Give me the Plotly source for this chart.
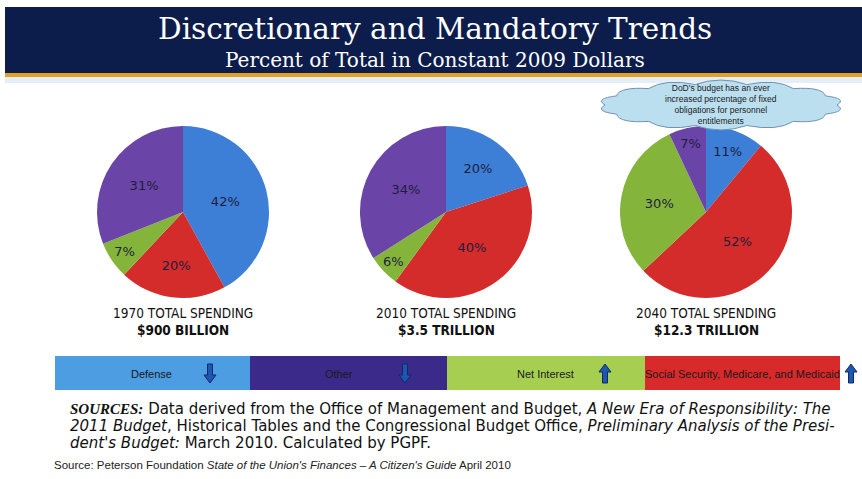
import numpy as np
import plotly.graph_objects as go

# ---------------- data ----------------
categories = ["Defense", "Social Security, Medicare, and Medicaid", "Net Interest", "Other"]
years = ["1970", "2010", "2040"]
share_1970 = [42, 20, 7, 31]
share_2010 = [20, 40, 6, 34]
share_2040 = [11, 52, 30, 7]
totals = ["$900 BILLION", "$3.5 TRILLION", "$12.3 TRILLION"]
pie_colors = ["#3d7fd6", "#d42b2b", "#84b43a", "#6a44a6"]

legend_order = ["Defense", "Other", "Net Interest", "Social Security, Medicare, and Medicaid"]
legend_colors = ["#4c9de2", "#3b2a8a", "#a6cf52", "#d8292b"]
legend_trend = ["down", "down", "up", "up"]

W, H = 862, 479

def px(x):
    return x / W

def py(y):
    return 1 - y / H

fig = go.Figure()

# ---------------- pies ----------------
pie_centers = [(183, 212), (446, 212), (706, 212)]
R = 86
for vals, (cx, cy) in zip([share_1970, share_2010, share_2040], pie_centers):
    fig.add_trace(go.Pie(
        labels=categories, values=vals, sort=False, direction="clockwise", rotation=0,
        marker=dict(colors=pie_colors, line=dict(width=0)),
        texttemplate="%{value}%", textposition="inside", insidetextorientation="horizontal",
        textfont=dict(family="DejaVu Sans", size=13, color="#1e1e3c"),
        domain=dict(x=[px(cx - R), px(cx + R)], y=[py(cy + R), py(cy - R)]),
        showlegend=False, hoverinfo="label+percent",
    ))

fig.update_layout(uniformtext=dict(minsize=12, mode="show"))

shapes = []
ann = []

# ---------------- banner ----------------
shapes.append(dict(type="rect", xref="x", yref="y", x0=5, x1=862, y0=7, y1=73,
                   fillcolor="#0c1d4b", line=dict(width=0), layer="below"))
shapes.append(dict(type="rect", xref="x", yref="y", x0=5, x1=862, y0=73, y1=77,
                   fillcolor="#e0a125", line=dict(width=0), layer="below"))
shapes.append(dict(type="rect", xref="x", yref="y", x0=5, x1=862, y0=77, y1=83,
                   fillcolor="#e6eef8", line=dict(width=0), layer="below"))
ann.append(dict(x=435, y=29, text="Discretionary and Mandatory Trends",
                font=dict(family="DejaVu Serif", size=29.5, color="white")))
ann.append(dict(x=435, y=60, text="Percent of Total in Constant 2009 Dollars",
                font=dict(family="DejaVu Serif", size=20, color="white")))

# ---------------- cloud ----------------
ccx, ccy, rx, ry = 721, 105, 116, 21
nb = 14
ts = np.linspace(0, 2 * np.pi, nb + 1)
path = ""
for i in range(nb):
    t0, t1 = ts[i], ts[i + 1]
    x0, y0 = ccx + rx * np.cos(t0), ccy + ry * np.sin(t0)
    x1, y1 = ccx + rx * np.cos(t1), ccy + ry * np.sin(t1)
    tm = (t0 + t1) / 2
    cxp, cyp = ccx + rx * 1.12 * np.cos(tm), ccy + ry * 1.4 * np.sin(tm)
    if i == 0:
        path += f"M {x0:.1f},{y0:.1f} "
    path += f"Q {cxp:.1f},{cyp:.1f} {x1:.1f},{y1:.1f} "
path += "Z"
shapes.append(dict(type="path", xref="x", yref="y", path=path,
                   fillcolor="#bcdff0", line=dict(color="#6f93b3", width=1), layer="above"))
ann.append(dict(x=721, y=104,
                text="DoD's budget has an ever<br>increased percentage of fixed<br>obligations for personnel<br>entitlements",
                font=dict(family="Liberation Sans", size=8.5, color="#1a1a1a")))

# ---------------- pie captions ----------------
for yr, tot, (cx, cy) in zip(years, totals, pie_centers):
    ann.append(dict(x=cx, y=313, text=f"{yr} TOTAL SPENDING",
                    font=dict(family="DejaVu Sans Condensed", size=13.5, color="#111")))
    ann.append(dict(x=cx, y=330, text=f"<b>{tot}</b>",
                    font=dict(family="DejaVu Sans Condensed", size=13.5, color="#111")))

# ---------------- legend bar ----------------
seg_x = [55, 250, 447, 645, 840]
label_x = [151, 339, 545, 742]
arrow_x = [210, 405, 605, 851]
for i, name in enumerate(legend_order):
    shapes.append(dict(type="rect", xref="x", yref="y", x0=seg_x[i], x1=seg_x[i + 1],
                       y0=356, y1=390, fillcolor=legend_colors[i], line=dict(width=0), layer="below"))
    ann.append(dict(x=label_x[i], y=374, text=name,
                    font=dict(family="Liberation Sans", size=11, color="#1a1a1a")))
    a = arrow_x[i]
    if legend_trend[i] == "down":
        p = (f"M {a-2.5},364 L {a+2.5},364 L {a+2.5},375 L {a+6},375 L {a},383 "
             f"L {a-6},375 L {a-2.5},375 Z")
    else:
        p = (f"M {a-2.5},383 L {a+2.5},383 L {a+2.5},372 L {a+6},372 L {a},364 "
             f"L {a-6},372 L {a-2.5},372 Z")
    shapes.append(dict(type="path", xref="x", yref="y", path=p, fillcolor="#1f56b0",
                       line=dict(color="#0d2a66", width=1), layer="above"))

# ---------------- sources ----------------
src_lines = [
    "<b><i><span style='font-family:Liberation Serif'>SOURCES:</span></i></b> Data derived from the Office of Management and Budget, <i>A New Era of Responsibility: The</i>",
    "<i>2011 Budget</i>, Historical Tables and the Congressional Budget Office, <i>Preliminary Analysis of the Presi-</i>",
    "<i>dent's Budget:</i> March 2010. Calculated by PGPF.",
]
for j, line in enumerate(src_lines):
    ann.append(dict(x=68, y=409 + j * 17, text=line, xanchor="left",
                    font=dict(family="DejaVu Sans", size=15, color="#111")))
ann.append(dict(x=52, y=465, xanchor="left",
                text="Source: Peterson Foundation <i>State of the Union's Finances – A Citizen's Guide</i> April 2010",
                font=dict(family="Liberation Sans", size=11.5, color="#222")))

for a in ann:
    a.setdefault("xref", "x")
    a.setdefault("yref", "y")
    a.setdefault("showarrow", False)

fig.update_layout(
    width=W, height=H, margin=dict(l=0, r=0, t=0, b=0),
    paper_bgcolor="white", plot_bgcolor="white",
    xaxis=dict(range=[0, W], visible=False, fixedrange=True, domain=[0, 1]),
    yaxis=dict(range=[H, 0], visible=False, fixedrange=True, domain=[0, 1]),
    shapes=shapes, annotations=ann,
)

fig.write_html("out.html", config={"displayModeBar": False},
               post_script="document.body.style.margin='0';")
